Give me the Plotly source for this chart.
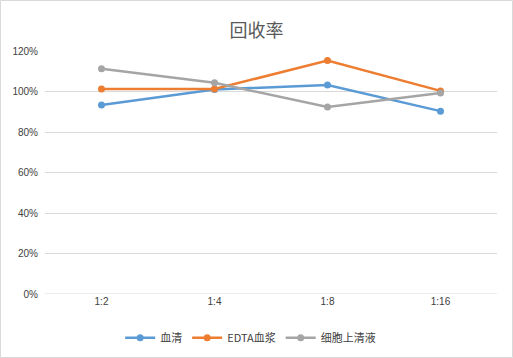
import plotly.graph_objects as go

categories = ["1:2", "1:4", "1:8", "1:16"]
serum = [0.933, 1.01, 1.032, 0.903]
edta_plasma = [1.012, 1.012, 1.153, 1.003]
cell_supernatant = [1.112, 1.043, 0.923, 0.993]
series_names = ["血清", "EDTA血浆", "细胞上清液"]
colors = ["#5B9BD5", "#ED7D31", "#A5A5A5"]
y_ticks = [0, 0.2, 0.4, 0.6, 0.8, 1.0, 1.2]
y_tick_labels = ["0%", "20%", "40%", "60%", "80%", "100%", "120%"]

font_family = "Noto Sans CJK SC, Liberation Sans, sans-serif"

fig = go.Figure()
for name, vals, c in zip(series_names, [serum, edta_plasma, cell_supernatant], colors):
    fig.add_trace(go.Scatter(
        x=categories, y=vals, name=name, mode="lines+markers",
        line=dict(color=c, width=2.5),
        marker=dict(color=c, size=7),
    ))

fig.update_layout(
    width=513, height=358,
    margin=dict(l=45, r=16, t=51, b=64, autoexpand=False),
    paper_bgcolor="white", plot_bgcolor="white",
    title=dict(text="回收率", x=0.5, xanchor="center", y=0.915, yanchor="middle",
               font=dict(family=font_family, size=18, color="#595959")),
    font=dict(family=font_family, size=10, color="#595959"),
    showlegend=True,
    legend=dict(orientation="h", x=0.455, xanchor="center", y=-0.18, yanchor="middle",
                font=dict(family=font_family, size=11, color="#404040"),
                itemwidth=30, tracegroupgap=0),
    xaxis=dict(type="category", range=[-0.5, 3.5], showgrid=False, showline=False,
               ticks="", tickfont=dict(family="Liberation Sans, sans-serif", size=10, color="#404040")),
    yaxis=dict(range=[0, 1.2], tickvals=y_ticks, ticktext=y_tick_labels,
               showgrid=True, gridcolor="#D9D9D9", gridwidth=1, zeroline=False,
               showline=False, ticks="", ticklabelstandoff=6,
               tickfont=dict(family="Liberation Sans, sans-serif", size=10, color="#404040")),
    shapes=[dict(type="rect", xref="paper", yref="paper", x0=-44.5/452, x1=1+15.5/452,
                 y0=-63.5/243, y1=1+50.5/243, line=dict(color="#D9D9D9", width=1))],
)
fig.add_shape(type="line", xref="paper", yref="y", x0=0, x1=1, y0=0, y1=0,
              line=dict(color="#D9D9D9", width=1))

fig.write_html("out.html", config={"displayModeBar": False},
               post_script="document.body.style.margin='0';document.body.style.overflow='hidden';")
